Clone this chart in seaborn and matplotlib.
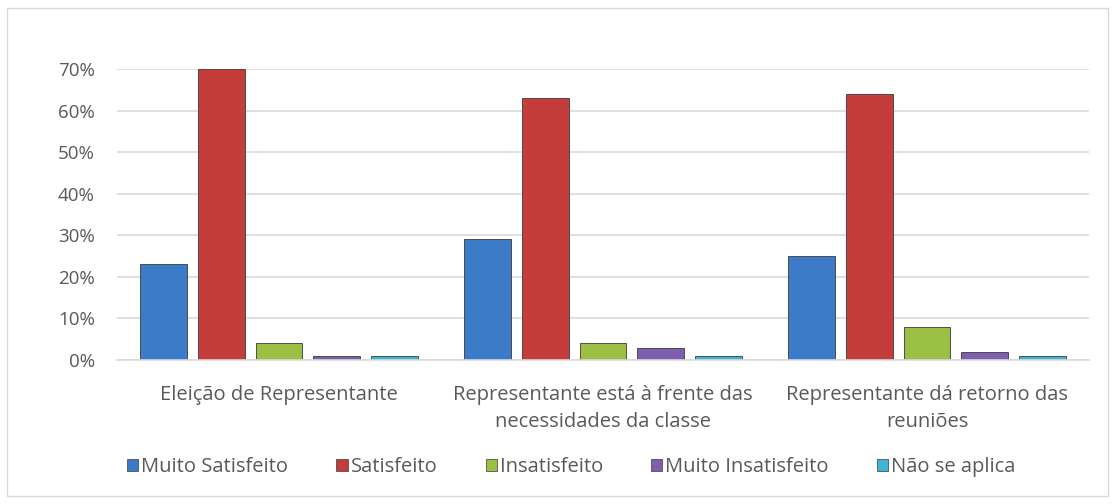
import matplotlib.pyplot as plt
import matplotlib.patches as mpatches
import pandas as pd
import seaborn as sns
from matplotlib.ticker import PercentFormatter

# categories and series
categories = [
    "Eleição de Representante",
    "Representante está à frente das\nnecessidades da classe",
    "Representante dá retorno das\nreuniões",
]
series = ["Muito Satisfeito", "Satisfeito", "Insatisfeito", "Muito Insatisfeito", "Não se aplica"]
muito_satisfeito = [0.23, 0.29, 0.25]
satisfeito = [0.70, 0.63, 0.64]
insatisfeito = [0.04, 0.04, 0.08]
muito_insatisfeito = [0.01, 0.03, 0.02]
nao_se_aplica = [0.01, 0.01, 0.01]
colors = ["#3c7bc8", "#c43d3b", "#9bc044", "#7e5eae", "#3db5d6"]

values = [muito_satisfeito, satisfeito, insatisfeito, muito_insatisfeito, nao_se_aplica]
rows = []
for name, vals in zip(series, values):
    for cat, v in zip(categories, vals):
        rows.append({"categoria": cat, "resposta": name, "valor": v})
df = pd.DataFrame(rows)

sns.set_style("white")
plt.rcParams["font.family"] = ["Open Sans", "DejaVu Sans"]
text_color = "#595959"
fs = 14.5

fig = plt.figure(figsize=(11.16, 5.04), dpi=100)
ax = fig.add_axes([117 / 1116, 1 - 360 / 504, 972 / 1116, 291 / 504])

sns.barplot(data=df, x="categoria", y="valor", hue="resposta", order=categories,
            hue_order=series, palette=colors, width=0.89, gap=0.19, ax=ax,
            edgecolor="#3a3a3a", linewidth=0.6, saturation=1, legend=False)

ax.set_ylim(0, 0.70)
ax.set_xlim(-0.5, 2.5)
ax.set_yticks([0, 0.1, 0.2, 0.3, 0.4, 0.5, 0.6, 0.7])
ax.yaxis.set_major_formatter(PercentFormatter(1.0, decimals=0))
ax.yaxis.grid(True, color="#d9d9d9", linewidth=1.2)
ax.set_axisbelow(True)
for side in ["top", "right", "left"]:
    ax.spines[side].set_visible(False)
ax.spines["bottom"].set_color("#d9d9d9")
ax.spines["bottom"].set_linewidth(1.2)
ax.set_xlabel("")
ax.set_ylabel("")
ax.tick_params(axis="both", length=0, colors=text_color)
ax.tick_params(axis="y", pad=16, labelsize=13.5)
ax.tick_params(axis="x", pad=18, labelsize=fs)
for lbl in ax.get_xticklabels():
    lbl.set_linespacing(1.45)

handles = [mpatches.Patch(facecolor=c, edgecolor="#3a3a3a", linewidth=0.5, label=s)
           for c, s in zip(colors, series)]
leg = fig.legend(handles=handles, loc="center", bbox_to_anchor=(0.512, 0.073), ncol=5,
                 frameon=False, fontsize=fs, handlelength=0.55, handleheight=0.55,
                 handletextpad=0.15, columnspacing=2.4)
for t in leg.get_texts():
    t.set_color(text_color)

border = mpatches.Rectangle((7 / 1116, 8 / 504), 1101 / 1116, 488 / 504,
                            transform=fig.transFigure, fill=False,
                            edgecolor="#d9d9d9", linewidth=1)
fig.patches.append(border)

fig.savefig("out.png", dpi=100, facecolor="white")
